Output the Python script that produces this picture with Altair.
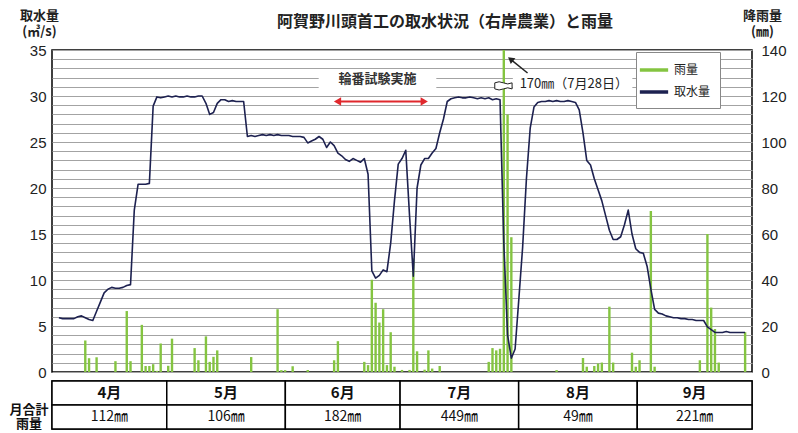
import altair as alt
import pandas as pd

FONT = "Noto Sans CJK JP"
NUM_FONT = "Liberation Sans"
GREEN = "#84c441"
NAVY = "#1d2150"
GRID = "#a3a3a3"
RED = "#e0282d"

# ---- categories / table ----
month_names = ["4月", "5月", "6月", "7月", "8月", "9月"]
month_days = [30, 31, 30, 31, 31, 30]
month_rain_totals = ["112㎜", "106㎜", "182㎜", "449㎜", "49㎜", "221㎜"]
series_names = ["雨量", "取水量"]
row_label_lines = ["月合計", "雨量"]

# ---- daily water intake (m3/s), one value per day ----
water_apr = [5.9, 5.8, 5.8, 5.8, 5.8, 6.0, 6.1, 5.9, 5.7, 5.6,
             6.6, 7.6, 8.6, 9.0, 9.2, 9.1, 9.1, 9.2, 9.4, 9.5,
             17.6, 20.4, 20.4, 20.4, 20.5, 28.9, 29.9, 29.8, 29.9, 30.0]
water_may = [29.9, 30.0, 29.9, 29.9, 30.0, 29.9, 29.9, 30.0, 30.0, 29.2,
             28.0, 28.2, 29.2, 29.6, 29.6, 29.4, 29.5, 29.4, 29.4, 29.4,
             25.6, 25.7, 25.6, 25.7, 25.8, 25.7, 25.8, 25.7, 25.8, 25.7,
             25.7]
water_jun = [25.7, 25.6, 25.6, 25.6, 25.5, 24.9, 25.1, 25.3, 25.6, 25.3,
             24.4, 25.0, 24.6, 23.8, 23.5, 23.1, 22.9, 23.2, 23.0, 22.8,
             23.2, 21.5, 11.0, 10.2, 10.5, 11.1, 10.9, 14.0, 18.6, 22.6]
water_jul = [23.2, 24.1, 17.0, 10.4, 20.0, 22.5, 23.2, 23.2, 23.8, 24.3,
             26.0, 27.5, 29.4, 29.7, 29.8, 29.9, 29.8, 29.8, 29.9, 29.8,
             29.7, 29.8, 29.7, 29.8, 29.6, 29.7, 29.6, 14.0, 4.0, 1.5,
             2.5]
water_aug = [8.0, 13.6, 21.0, 26.5, 28.8, 29.3, 29.4, 29.4, 29.5, 29.4,
             29.5, 29.4, 29.4, 29.5, 29.4, 29.3, 28.5, 26.0, 23.0, 22.5,
             21.0, 19.8, 18.6, 17.0, 15.4, 14.4, 14.4, 14.7, 16.0, 17.6,
             15.0]
water_sep = [13.4, 13.0, 12.9, 11.5, 9.0, 6.8, 6.4, 6.3, 6.1, 6.0,
             5.9, 5.9, 5.8, 5.8, 5.7, 5.7, 5.6, 5.6, 5.6, 4.9,
             4.6, 4.3, 4.3, 4.3, 4.4, 4.3, 4.3, 4.3, 4.3, 4.3]

# ---- daily rainfall (mm): day of month -> mm ----
rain_apr = {8: 13.7, 9: 6.0, 11: 6.4, 16: 4.7, 19: 26.5, 20: 4.7, 23: 20.5, 24: 2.6,
            25: 2.6, 26: 3.4, 27: 0.5, 28: 12.4, 30: 2.7}
rain_may = {1: 14.5, 7: 10.4, 8: 5.1, 10: 15.5, 11: 4.4, 12: 6.6, 13: 9.4, 22: 6.5,
            29: 27.3, 30: 0.8, 31: 0.8}
rain_jun = {2: 2.5, 6: 0.9, 13: 5.1, 14: 13.4, 21: 4.4, 22: 3.0, 23: 40.1, 24: 30.1,
            25: 21.5, 26: 27.3, 27: 3.0, 28: 17.3, 29: 2.3}
rain_jul = {1: 0.9, 3: 0.9, 4: 49.4, 5: 9.0, 7: 1.0, 8: 9.4, 9: 1.5, 11: 2.6,
            24: 4.4, 25: 10.4, 26: 9.4, 27: 10.1, 28: 170.0, 29: 112.0, 30: 58.6}
rain_aug = {11: 0.8, 18: 6.1, 19: 2.3, 21: 2.6, 22: 3.7, 23: 4.1, 25: 28.4, 26: 4.1, 31: 8.4}
rain_sep = {1: 2.3, 2: 5.1, 5: 70.0, 6: 2.3, 18: 5.1, 20: 60.0, 21: 28.0, 22: 18.7,
            23: 4.1, 30: 17.3}

# ---- build tables ----
offsets = [0]
for n in month_days[:-1]:
    offsets.append(offsets[-1] + n)
total_days = offsets[-1] + month_days[-1]

water = water_apr + water_may + water_jun + water_jul + water_aug + water_sep
df_w = pd.DataFrame({"x": [i + 0.5 for i in range(len(water))], "q": water, "s": "取水量"})

rows = []
for off, dct in zip(offsets, [rain_apr, rain_may, rain_jun, rain_jul, rain_aug, rain_sep]):
    for d, v in dct.items():
        rows.append({"x": off + d - 0.5, "mm": v})
df_r = pd.DataFrame(rows)

cells = []
for name, tot, s, n in zip(month_names, month_rain_totals, offsets, month_days):
    cells.append({"start": s, "end": s + n, "mid": s + n / 2, "row": "m", "label": name})
    cells.append({"start": s, "end": s + n, "mid": s + n / 2, "row": "t", "label": tot})
df_t = pd.DataFrame(cells)
df_lab = pd.DataFrame({"x": [-6.0], "row": ["t"], "l1": [row_label_lines[0]], "l2": [row_label_lines[1]]})

# annotation data (x in day units, y in m3/s units)
bg_df = pd.DataFrame({"x": [69.4, 120.9], "x2": [100.6, 152.6], "y": [30.7, 30.4], "y2": [32.9, 32.5]})
rot_text = pd.DataFrame({"x": [85.0], "y": [31.8], "t": ["輪番試験実施"]})
rot_rule = pd.DataFrame({"x": [74.6], "x2": [97.2], "y": [29.4]})
rot_heads = pd.DataFrame({"x": [74.4, 97.4], "y": [29.4, 29.4], "shape": ["triangle-left", "triangle-right"]})
note_text = pd.DataFrame({"x": [122.7], "y": [31.3], "t": ["170㎜（7月28日）"]})
note_break = pd.DataFrame({"x": [118.4], "y": [31.1]})
note_rule = pd.DataFrame({"x": [124.8], "y": [32.5], "x2": [120.4], "y2": [33.95]})
note_head = pd.DataFrame({"x": [120.3], "y": [34.0]})

W = 700
H = 322
TH = 48

xs = alt.Scale(domain=[0, total_days], nice=False, zero=False)
ws = alt.Scale(domain=[0, 35], nice=False, zero=True)
cs = alt.Scale(domain=series_names, range=[GREEN, NAVY])


def XQ(field):
    return alt.X(field, scale=xs, axis=None)


def YW(field):
    return alt.Y(field, scale=ws, axis=None)


bg = alt.Chart(bg_df).mark_rect(fill="white").encode(
    x=XQ("x:Q"), x2="x2:Q", y=YW("y:Q"), y2="y2:Q")

bars = alt.Chart(df_r).mark_bar(size=2.4, color=GREEN).encode(
    x=XQ("x:Q"),
    y=alt.Y("mm:Q", scale=alt.Scale(domain=[0, 140], nice=False, clamp=True),
            axis=alt.Axis(orient="right", values=[0, 20, 40, 60, 80, 100, 120, 140],
                          grid=False, ticks=False, domain=False, labelPadding=9,
                          labelFont=NUM_FONT, labelFontSize=15, labelColor="#222",
                          title=["降雨量", "(㎜)"], titleAngle=0, titleAlign="center",
                          titleBaseline="top", titleX=10, titleY=-41,
                          titleFont=FONT, titleFontSize=13, titleFontWeight="bold",
                          titleLineHeight=16, titleColor="#222")),
)

line = alt.Chart(df_w).mark_line(strokeWidth=1.6, strokeJoin="round").encode(
    x=XQ("x:Q"),
    y=alt.Y("q:Q", scale=ws,
            axis=alt.Axis(orient="left", values=list(range(36)),
                          labelExpr="datum.value % 5 == 0 ? datum.label : ''",
                          grid=True, gridColor=GRID, gridWidth=1, ticks=False, domain=False,
                          labelPadding=6, labelFont=NUM_FONT, labelFontSize=15, labelColor="#222",
                          title=["取水量", "(㎥/s)"], titleAngle=0, titleAlign="center",
                          titleBaseline="top", titleX=-13, titleY=-41,
                          titleFont=FONT, titleFontSize=13, titleFontWeight="bold",
                          titleLineHeight=16, titleColor="#222")),
    color=alt.Color("s:N", scale=cs,
                    legend=alt.Legend(title=None, orient="none", legendX=584, legendY=2,
                                      direction="vertical", fillColor="white", strokeColor="#888",
                                      padding=9, symbolType="M-2,0H2", symbolStrokeWidth=3.5,
                                      symbolSize=200, labelFont=FONT, labelFontSize=12,
                                      labelColor="#222", rowPadding=6, labelOffset=11)),
)

t_rot = alt.Chart(rot_text).mark_text(font=FONT, fontSize=13, fontWeight="bold", color="#333").encode(
    x=XQ("x:Q"), y=YW("y:Q"), text="t:N")
r_rot = alt.Chart(rot_rule).mark_rule(color=RED, strokeWidth=2).encode(
    x=XQ("x:Q"), x2="x2:Q", y=YW("y:Q"))
h_rot = alt.Chart(rot_heads).mark_point(filled=True, color=RED, size=70, opacity=1).encode(
    x=XQ("x:Q"), y=YW("y:Q"), shape=alt.Shape("shape:N", scale=None, legend=None))
t_note = alt.Chart(note_text).mark_text(font=FONT, fontSize=13, color="#222", align="left").encode(
    x=XQ("x:Q"), y=YW("y:Q"), text="t:N")
b_note = alt.Chart(note_break).mark_point(
    shape="M-1,-0.35Q-0.5,-0.6,0,-0.35T1,-0.35L1,0.35Q0.5,0.1,0,0.35T-1,0.35Z",
    filled=True, fill="white", stroke="#222", strokeWidth=1, size=300, opacity=1).encode(
    x=XQ("x:Q"), y=YW("y:Q"))
r_note = alt.Chart(note_rule).mark_rule(color="#222", strokeWidth=1.5).encode(
    x=XQ("x:Q"), x2="x2:Q", y=YW("y:Q"), y2="y2:Q")
h_note = alt.Chart(note_head).mark_point(shape="triangle-up", filled=True, color="#222",
                                          size=55, angle=309, opacity=1).encode(
    x=XQ("x:Q"), y=YW("y:Q"))

top = alt.layer(bg, bars, line, t_rot, r_rot, h_rot, b_note, t_note, r_note, h_note).resolve_scale(
    y="independent").properties(
    width=W, height=H,
    title=alt.TitleParams("阿賀野川頭首工の取水状況（右岸農業）と雨量", font=FONT, fontSize=16,
                          fontWeight="bold", color="#222", anchor="middle", frame="group",
                          dx=43, offset=-21),
)

tx = alt.Scale(domain=[0, total_days], nice=False, zero=False)
ty = alt.Y("row:N", scale=alt.Scale(domain=["m", "t"], paddingInner=0, paddingOuter=0), axis=None)

cells_rect = alt.Chart(df_t).mark_rect(fill="white", stroke="black", strokeWidth=1.5).encode(
    x=alt.X("start:Q", scale=tx, axis=None), x2="end:Q", y=ty)
cells_m = alt.Chart(df_t).transform_filter("datum.row == 'm'").mark_text(
    font=FONT, fontSize=15, fontWeight="bold", color="#111").encode(
    x=alt.X("mid:Q", scale=tx, axis=None), y=ty, text="label:N")
cells_t = alt.Chart(df_t).transform_filter("datum.row == 't'").mark_text(
    font=FONT, fontSize=14, color="#111").encode(
    x=alt.X("mid:Q", scale=tx, axis=None), y=ty, text="label:N")
lab1 = alt.Chart(df_lab).mark_text(font=FONT, fontSize=13, fontWeight="bold", color="#111",
                                   dy=-7).encode(
    x=alt.X("x:Q", scale=tx, axis=None), y=ty, text="l1:N")
lab2 = alt.Chart(df_lab).mark_text(font=FONT, fontSize=13, fontWeight="bold", color="#111",
                                   dy=7).encode(
    x=alt.X("x:Q", scale=tx, axis=None), y=ty, text="l2:N")

table = alt.layer(cells_rect, cells_m, cells_t, lab1, lab2).properties(width=W, height=TH)

chart = alt.vconcat(top, table, spacing=-8).resolve_scale(color="independent").configure_view(
    stroke="black", strokeWidth=1.5).properties(
    padding={"left": 0, "top": 0, "right": 0, "bottom": 0})

chart.save("out.html", embed_options={"renderer": "svg", "actions": False})
